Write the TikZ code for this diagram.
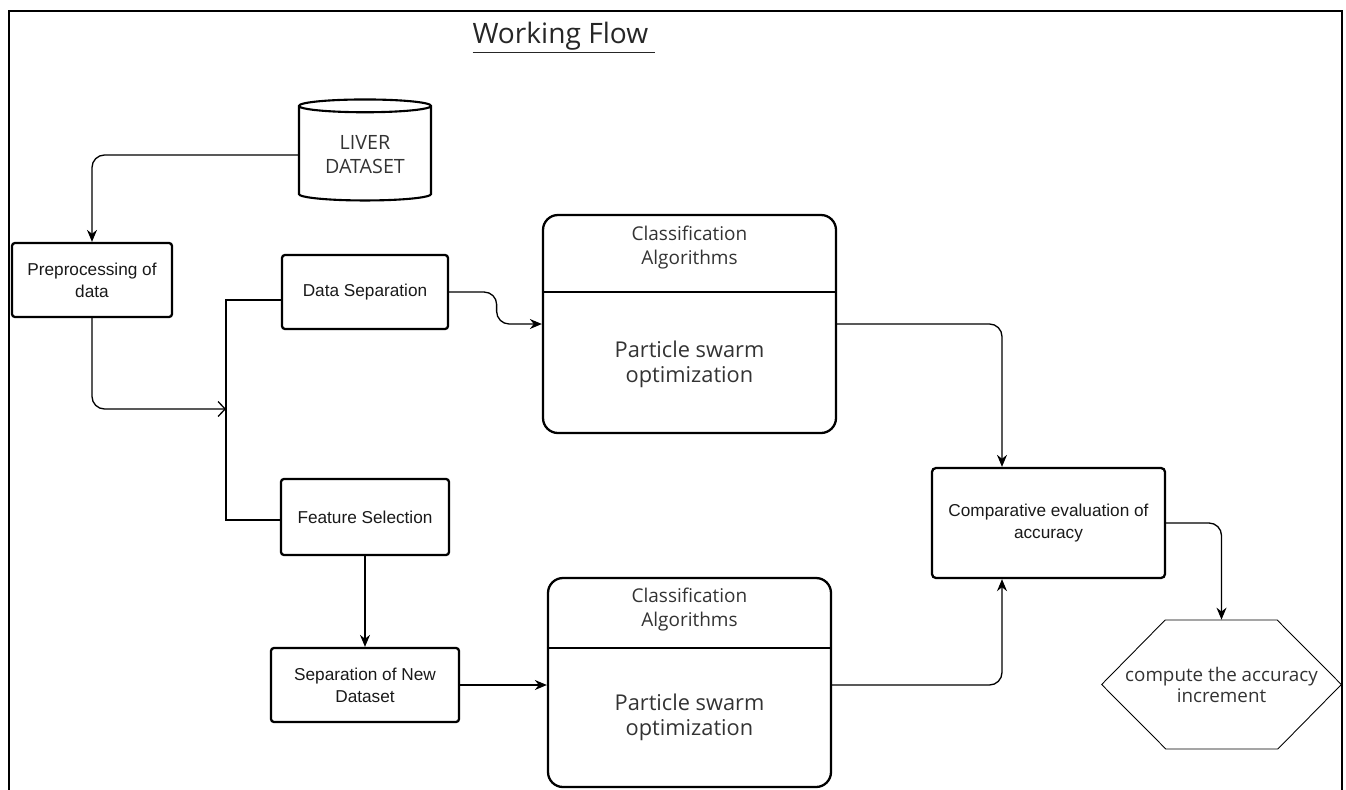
\documentclass[tikz,border=0pt]{standalone}
\usepackage{fontspec}
\setmainfont{Liberation Sans}
\newfontfamily\osans{Open Sans}
\usetikzlibrary{arrows.meta,shapes.geometric}

\tikzset{
  stepbox/.style={rectangle,draw=black,line width=1.3pt,rounded corners=0.06cm,align=center,
    font=\fontsize{9.8}{12.4}\selectfont,text=black!90},
  algbox/.style={rectangle,draw=black,line width=1.3pt,rounded corners=0.3cm},
  algtext/.style={align=center,font=\osans\fontsize{10.8}{14.2}\selectfont,text=black!80},
  psotext/.style={align=center,font=\osans\fontsize{12.4}{14.2}\selectfont,text=black!80},
  flow/.style={line width=0.75pt,rounded corners=0.25cm,-{Stealth[length=0.24cm,width=0.2cm]}},
  openflow/.style={line width=0.75pt,rounded corners=0.25cm,-{Straight Barb[length=0.14cm,width=0.3cm]}},
  bracket/.style={line width=1.4pt},
}

\begin{document}
\begin{tikzpicture}

\useasboundingbox (0,0) rectangle (26.92,-15.78);
\draw[line width=1.1pt] (0.18,-16) -- (0.18,-0.22) -- (26.84,-0.22) -- (26.84,-16);

\node[font=\osans\fontsize{16}{19}\selectfont,text=black!85] (title) at (11.28,-0.75) {\underline{Working Flow\ }};

\node[cylinder,draw=black,line width=1.2pt,shape border rotate=90,aspect=0.14,minimum width=2.64cm,minimum height=2.02cm,
  align=center,font=\osans\fontsize{11.2}{13.7}\selectfont,text=black!80] (liver) at (7.3,-3.1) {LIVER\\DATASET};

\node[stepbox,minimum width=3.2cm,minimum height=1.48cm] (pre) at (1.84,-5.6) {Preprocessing of\\data};
\node[stepbox,minimum width=3.32cm,minimum height=1.48cm] (ds) at (7.3,-5.84) {Data Separation};
\node[stepbox,minimum width=3.36cm,minimum height=1.52cm] (fs) at (7.3,-10.34) {Feature Selection};
\node[stepbox,minimum width=3.76cm,minimum height=1.48cm] (snd) at (7.3,-13.7) {Separation of New\\Dataset};

\node[algbox,minimum width=5.86cm,minimum height=4.36cm] (cls1) at (13.79,-6.48) {};
\node[algtext] (cls1a) at (13.79,-4.95) {Classification\\Algorithms};
\node[psotext] (cls1b) at (13.79,-7.29) {Particle swarm\\optimization};
\draw[line width=1pt] (cls1.west |- 0,-5.84) -- (cls1.east |- 0,-5.84);

\node[algbox,minimum width=5.66cm,minimum height=4.18cm] (cls2) at (13.79,-13.65) {};
\node[algtext] (cls2a) at (13.79,-12.19) {Classification\\Algorithms};
\node[psotext] (cls2b) at (13.79,-14.35) {Particle swarm\\optimization};
\draw[line width=1.2pt] (cls2.west |- 0,-12.96) -- (cls2.east |- 0,-12.96);

\node[stepbox,rounded corners=0.08cm,minimum width=4.66cm,minimum height=2.2cm] (comp) at (20.97,-10.46) {Comparative evaluation of\\accuracy};

% hexagon
\node[minimum width=4.78cm,minimum height=2.58cm,align=center,font=\osans\fontsize{10.7}{12}\selectfont,text=black!80] (inc) at (24.43,-13.69) {compute the accuracy\\increment};
\draw[line width=0.5pt] (inc.west) -- ++(1.27,1.29) -- ++(2.24,0) -- (inc.east) -- ++(-1.27,-1.29) -- ++(-2.24,0) -- cycle;

\coordinate (br) at (4.52,-8.18);
\coordinate (brtop) at (4.52,-6.0);
\coordinate (brbot) at (4.52,-10.4);

\draw[flow] (liver.west) -| (pre.north);
\draw[openflow] (pre.south) |- (br);
\draw[bracket] (ds.west |- brtop) -- (brtop) -- (brbot) -- (fs.west |- brbot);
\draw[flow] (ds.east) -- ++(0.95,0) |- (cls1.west);
\draw[flow] (fs.south) -- (snd.north);
\draw[flow] (snd.east) -- (snd.east -| cls2.west);
\draw[flow] (cls1.east) -| ([xshift=-0.93cm]comp.north);
\draw[flow] (cls2.east |- snd.east) -| ([xshift=-0.93cm]comp.south);
\draw[flow] (comp.east) -| (inc.north);

\end{tikzpicture}
\end{document}
